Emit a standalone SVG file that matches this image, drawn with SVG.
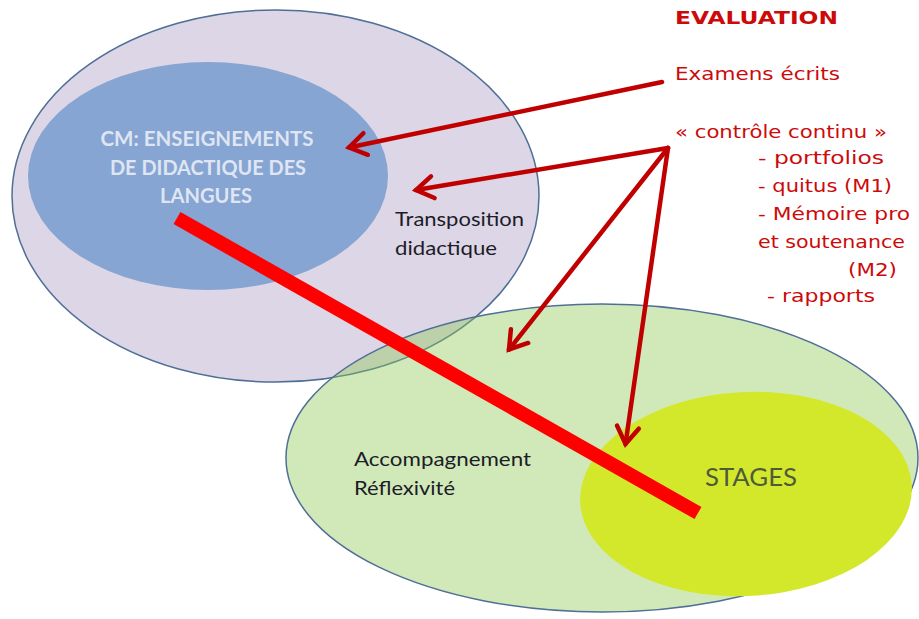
<svg xmlns="http://www.w3.org/2000/svg" width="919" height="619" viewBox="0 0 919 619">
<style>
.outline{stroke:#4f6f96;stroke-width:1.5}
.lbl{font-family:Lato,"Open Sans","Liberation Sans",sans-serif;font-size:19px;fill:#1c1c28}
.cm{font-family:Lato,"Open Sans","Liberation Sans",sans-serif;font-size:20px;font-weight:bold;fill:#dfe5f2;text-anchor:middle}
.ev{font-family:"DejaVu Sans","Liberation Sans",sans-serif;font-size:17px;fill:#cc0a0a}
.arr{stroke:#c00000;stroke-width:4.5;fill:none;stroke-linecap:round}
</style>
<defs>
<marker id="ah" viewBox="-22 -14 26 28" refX="0" refY="0" markerWidth="26" markerHeight="28" markerUnits="userSpaceOnUse" orient="auto">
<path d="M-17,-11 L0,0 L-17,11" fill="none" stroke="#c00000" stroke-width="4.5" stroke-linecap="round" stroke-linejoin="miter"/>
</marker>
</defs>
<g id="didactique">
<ellipse cx="275.5" cy="196" rx="263.5" ry="186" fill="#dcd6e6" class="outline"/>
</g>
<g id="cm">
<ellipse cx="208" cy="176" rx="180" ry="114" fill="#86a5d2"/>
<text class="cm" x="207" y="146" textLength="213" lengthAdjust="spacingAndGlyphs">CM: ENSEIGNEMENTS</text>
<text class="cm" x="208" y="175" textLength="196" lengthAdjust="spacingAndGlyphs">DE DIDACTIQUE DES</text>
<text class="cm" x="206" y="203" textLength="92" lengthAdjust="spacingAndGlyphs">LANGUES</text>
</g>
<g id="transposition">
<text class="lbl" x="395" y="226" textLength="129" lengthAdjust="spacingAndGlyphs">Transposition</text>
<text class="lbl" x="395" y="255" textLength="102" lengthAdjust="spacingAndGlyphs">didactique</text>
</g>
<g id="accompagnement">
<ellipse cx="602" cy="458" rx="316" ry="154" fill="#8cc850" fill-opacity="0.4" class="outline"/>
<text class="lbl" x="354" y="466" textLength="177" lengthAdjust="spacingAndGlyphs">Accompagnement</text>
<text class="lbl" x="354" y="495" textLength="101" lengthAdjust="spacingAndGlyphs">Réflexivité</text>
</g>
<g id="stages">
<ellipse cx="746" cy="494" rx="166" ry="102" fill="#d3e82a" transform="rotate(-3 746 494)"/>
<text x="705" y="486" textLength="92" lengthAdjust="spacingAndGlyphs" style="font-family:Lato,'Open Sans','Liberation Sans',sans-serif;font-size:25px;fill:#4e5a3c">STAGES</text>
</g>
<g id="evaluation">
<text class="ev" x="675" y="24" font-weight="bold" textLength="163" lengthAdjust="spacingAndGlyphs">EVALUATION</text>
<text class="ev" x="675" y="80" textLength="165" lengthAdjust="spacingAndGlyphs">Examens écrits</text>
<text class="ev" x="675" y="138" textLength="212" lengthAdjust="spacingAndGlyphs">« contrôle continu »</text>
<text class="ev" x="758" y="164" textLength="126" lengthAdjust="spacingAndGlyphs">- portfolios</text>
<text class="ev" x="758" y="192" textLength="134" lengthAdjust="spacingAndGlyphs">- quitus (M1)</text>
<text class="ev" x="758" y="220" textLength="152" lengthAdjust="spacingAndGlyphs">- Mémoire pro</text>
<text class="ev" x="758" y="248" textLength="147" lengthAdjust="spacingAndGlyphs">et soutenance</text>
<text class="ev" x="848" y="276" textLength="49" lengthAdjust="spacingAndGlyphs">(M2)</text>
<text class="ev" x="767" y="302" textLength="108" lengthAdjust="spacingAndGlyphs">- rapports</text>
</g>
<g id="connectors">
<line x1="177" y1="218" x2="698" y2="513" stroke="#ff0000" stroke-width="14"/>
<line class="arr" x1="662" y1="82" x2="349" y2="147.5" marker-end="url(#ah)"/>
<line class="arr" x1="668" y1="148" x2="416" y2="190" marker-end="url(#ah)"/>
<line class="arr" x1="668" y1="148" x2="509" y2="349.5" marker-end="url(#ah)"/>
<line class="arr" x1="668" y1="148" x2="625.5" y2="444" marker-end="url(#ah)"/>
</g>
</svg>
